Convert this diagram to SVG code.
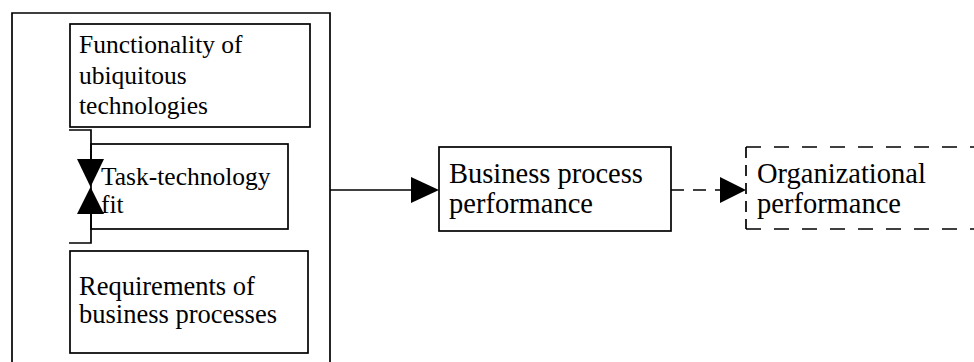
<svg xmlns="http://www.w3.org/2000/svg" width="974" height="362" viewBox="0 0 974 362">
<style>
.box{fill:#fff;stroke:#000;stroke-width:1.7}
.ln{fill:none;stroke:#000;stroke-width:1.7}
.dash{fill:none;stroke:#000;stroke-width:1.7;stroke-dasharray:13 9}
.tl{font-family:"Liberation Serif","Times New Roman",serif;font-size:25.5px;fill:#000}
.tr{font-family:"Liberation Serif","Times New Roman",serif;font-size:28.5px;fill:#000}
.head{fill:#000;stroke:none}
</style>
<rect width="974" height="362" fill="#fff"/>
<g id="outer">
<path class="ln" d="M12,370 V13 H330 V370"/>
</g>
<g id="functionality">
<rect class="box" x="70" y="24" width="240" height="103"/>
<text class="tl" x="79" y="53">Functionality of</text>
<text class="tl" x="79" y="84">ubiquitous</text>
<text class="tl" x="79" y="114">technologies</text>
</g>
<g id="fit">
<rect class="box" x="91" y="144" width="197" height="85"/>
<text class="tl" x="101" y="185">Task-technology</text>
<text class="tl" x="101" y="213">fit</text>
</g>
<g id="requirements">
<rect class="box" x="70" y="251" width="238" height="102"/>
<text class="tl" x="79" y="295" style="font-size:26.5px">Requirements of</text>
<text class="tl" x="79" y="323" style="font-size:26.5px">business processes</text>
</g>
<g id="business">
<rect class="box" x="439" y="147" width="232" height="84"/>
<text class="tr" x="449" y="183">Business process</text>
<text class="tr" x="449" y="213">performance</text>
</g>
<g id="organizational">
<line class="ln" x1="746" y1="147" x2="974" y2="147" style="stroke-dasharray:15 13"/>
<line class="ln" x1="746" y1="229" x2="974" y2="229" style="stroke-dasharray:15 13"/>
<line class="ln" x1="746" y1="147" x2="746" y2="229" style="stroke-dasharray:11 7"/>
<text class="tr" x="757" y="183">Organizational</text>
<text class="tr" x="757" y="213">performance</text>
</g>
<g id="connectors">
<path class="ln" d="M69,130 H91 V162"/>
<path class="ln" d="M91,212 V243 H69"/>
<polygon class="head" points="77,159 104,159 90.5,187"/>
<polygon class="head" points="77,214 104,214 90.5,187"/>
<line class="ln" x1="330" y1="190" x2="412" y2="190"/>
<polygon class="head" points="411,177 439,190 411,203"/>
<line class="dash" x1="671" y1="190" x2="720" y2="190"/>
<polygon class="head" points="720,177 746,190 720,203"/>
</g>
</svg>
